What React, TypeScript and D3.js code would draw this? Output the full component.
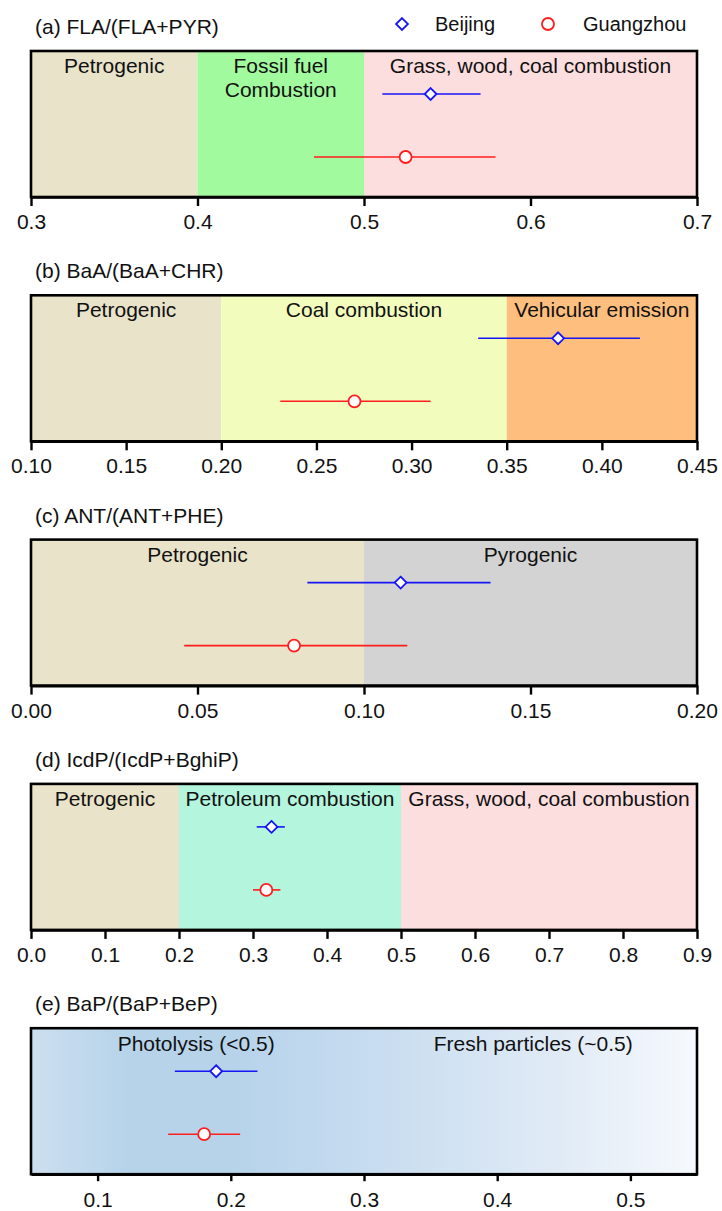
import React, { useEffect, useRef } from 'react';
import * as d3 from 'd3';

// panel titles and x domains
const titles = ['(a) FLA/(FLA+PYR)', '(b) BaA/(BaA+CHR)', '(c) ANT/(ANT+PHE)', '(d) IcdP/(IcdP+BghiP)', '(e) BaP/(BaP+BeP)'];
const domains = [[0.3, 0.7], [0.1, 0.45], [0, 0.2], [0, 0.9], [0.05, 0.55]];
const tickSets = [
    [0.3, 0.4, 0.5, 0.6, 0.7],
    [0.1, 0.15, 0.2, 0.25, 0.3, 0.35, 0.4, 0.45],
    [0, 0.05, 0.1, 0.15, 0.2],
    [0, 0.1, 0.2, 0.3, 0.4, 0.5, 0.6, 0.7, 0.8, 0.9],
    [0.1, 0.2, 0.3, 0.4, 0.5],
];
const tickFormats = ['.1f', '.2f', '.2f', '.1f', '.1f'];

// source regions for each panel: [from, to, label, colour]
const regionsA = [[0.3, 0.4, 'Petrogenic', '#E9E3C9'], [0.4, 0.5, 'Fossil fuel\nCombustion', '#A2FA9E'], [0.5, 0.7, 'Grass, wood, coal combustion', '#FDDEDF']];
const regionsB = [[0.1, 0.2, 'Petrogenic', '#E9E3C9'], [0.2, 0.35, 'Coal combustion', '#F2FCBD'], [0.35, 0.45, 'Vehicular emission', '#FDBE7E']];
const regionsC = [[0, 0.1, 'Petrogenic', '#E9E3C9'], [0.1, 0.2, 'Pyrogenic', '#D3D3D3']];
const regionsD = [[0, 0.2, 'Petrogenic', '#E9E3C9'], [0.2, 0.5, 'Petroleum combustion', '#B3F5DD'], [0.5, 0.9, 'Grass, wood, coal combustion', '#FDDEDF']];
// panel (e) has a gradient, labels only: [centre, label]
const labelsE = [[0.174, 'Photolysis (<0.5)'], [0.427, 'Fresh particles (~0.5)']];
const gradientStops = [[0, '#CCDFEF'], [0.15, '#B6D3EA'], [0.3, '#B6D3EA'], [0.45, '#C2D9EF'], [0.6, '#CFE1F1'], [0.8, '#E1EBF6'], [1, '#F6F9FD']];

// mean and range per panel
const bjMean = [0.54, 0.377, 0.111, 0.325, 0.189];
const bjLow = [0.511, 0.335, 0.083, 0.305, 0.158];
const bjHigh = [0.57, 0.42, 0.138, 0.343, 0.22];
const gzMean = [0.525, 0.27, 0.079, 0.318, 0.18];
const gzLow = [0.47, 0.231, 0.046, 0.3, 0.153];
const gzHigh = [0.579, 0.31, 0.113, 0.337, 0.207];

const W = 722, H = 1211;
const FONT = '"Liberation Sans", Arial, sans-serif';

export default function App() {
    const ref = useRef<SVGSVGElement>(null);

    useEffect(() => {
        const svg = d3.select(ref.current);
        svg.selectAll('*').remove();

        const left = 31, right = 697;
        const firstTop = 51, step = 244.3, boxH = 146;
        const blue = '#1515F5', red = '#FF1E1E';

        const defs = svg.append('defs');
        const grad = defs.append('linearGradient').attr('id', 'gradE')
            .attr('x1', '0%').attr('x2', '100%').attr('y1', '0%').attr('y2', '0%');
        gradientStops.forEach((s) => {
            grad.append('stop').attr('offset', `${(s[0] as number) * 100}%`).attr('stop-color', s[1] as string);
        });

        // legend
        const leg = svg.append('g');
        leg.append('path')
            .attr('d', d3.symbol(d3.symbolDiamond2, 90)())
            .attr('transform', 'translate(402,24)')
            .attr('fill', 'white').attr('stroke', blue).attr('stroke-width', 1.8);
        leg.append('text').attr('x', 435).attr('y', 31).text('Beijing');
        leg.append('circle').attr('cx', 548).attr('cy', 24).attr('r', 6)
            .attr('fill', 'white').attr('stroke', red).attr('stroke-width', 1.8);
        leg.append('text').attr('x', 583).attr('y', 31).text('Guangzhou');
        leg.selectAll('text').attr('font-size', 20).attr('font-family', FONT).attr('fill', '#111');

        const allRegions = [regionsA, regionsB, regionsC, regionsD];

        titles.forEach((title, i) => {
            const top = firstTop + i * step;
            const bottom = top + boxH;
            const x = d3.scaleLinear().domain(domains[i]).range([left, right]);
            const g = svg.append('g');

            g.append('text')
                .attr('x', 35).attr('y', top - 17)
                .attr('font-size', 21).attr('font-family', FONT).attr('fill', '#111')
                .text(title);

            if (i < 4) {
                const regions = allRegions[i];
                regions.forEach((r) => {
                    const x0 = x(r[0] as number), x1 = x(r[1] as number);
                    g.append('rect')
                        .attr('x', x0).attr('y', top)
                        .attr('width', x1 - x0).attr('height', boxH)
                        .attr('fill', r[3] as string);
                    const lines = (r[2] as string).split('\n');
                    lines.forEach((l, k) => {
                        g.append('text')
                            .attr('x', (x0 + x1) / 2).attr('y', top + 22 + k * 24)
                            .attr('text-anchor', 'middle')
                            .attr('font-size', 21).attr('font-family', FONT).attr('fill', '#111')
                            .text(l);
                    });
                });
            } else {
                g.append('rect')
                    .attr('x', left).attr('y', top)
                    .attr('width', right - left).attr('height', boxH)
                    .attr('fill', 'url(#gradE)');
                labelsE.forEach((l) => {
                    g.append('text')
                        .attr('x', x(l[0] as number)).attr('y', top + 23)
                        .attr('text-anchor', 'middle')
                        .attr('font-size', 21).attr('font-family', FONT).attr('fill', '#111')
                        .text(l[1] as string);
                });
            }

            // error bars + markers
            const yBj = top + 43, yGz = top + 106;
            g.append('line')
                .attr('x1', x(bjLow[i])).attr('x2', x(bjHigh[i]))
                .attr('y1', yBj).attr('y2', yBj)
                .attr('stroke', blue).attr('stroke-width', 1.6);
            g.append('path')
                .attr('d', d3.symbol(d3.symbolDiamond2, 90)())
                .attr('transform', `translate(${x(bjMean[i])},${yBj})`)
                .attr('fill', 'white').attr('stroke', blue).attr('stroke-width', 1.8);
            g.append('line')
                .attr('x1', x(gzLow[i])).attr('x2', x(gzHigh[i]))
                .attr('y1', yGz).attr('y2', yGz)
                .attr('stroke', red).attr('stroke-width', 1.6);
            g.append('circle')
                .attr('cx', x(gzMean[i])).attr('cy', yGz).attr('r', 6)
                .attr('fill', 'white').attr('stroke', red).attr('stroke-width', 1.8);

            // frame
            g.append('rect')
                .attr('x', left).attr('y', top)
                .attr('width', right - left).attr('height', boxH)
                .attr('fill', 'none').attr('stroke', '#000').attr('stroke-width', 2.6);

            // x axis
            const tickLen = i === 4 ? 7 : 9;
            const axis = d3.axisBottom(x)
                .tickValues(tickSets[i])
                .tickFormat(d3.format(tickFormats[i]))
                .tickSize(tickLen)
                .tickSizeOuter(0)
                .tickPadding(i === 4 ? 11 : 8);
            const ax = g.append('g')
                .attr('transform', `translate(0,${bottom})`)
                .call(axis);
            ax.select('.domain').attr('stroke-width', 2.6);
            ax.selectAll('.tick line').attr('stroke-width', 2.4);
            ax.selectAll('.tick text')
                .attr('font-size', 21).attr('font-family', FONT).attr('fill', '#111');
        });
    }, []);

    return (
        <svg ref={ref} width={W} height={H}
            style={{ position: 'absolute', left: 0, top: 0, background: 'white' }} />
    );
}
